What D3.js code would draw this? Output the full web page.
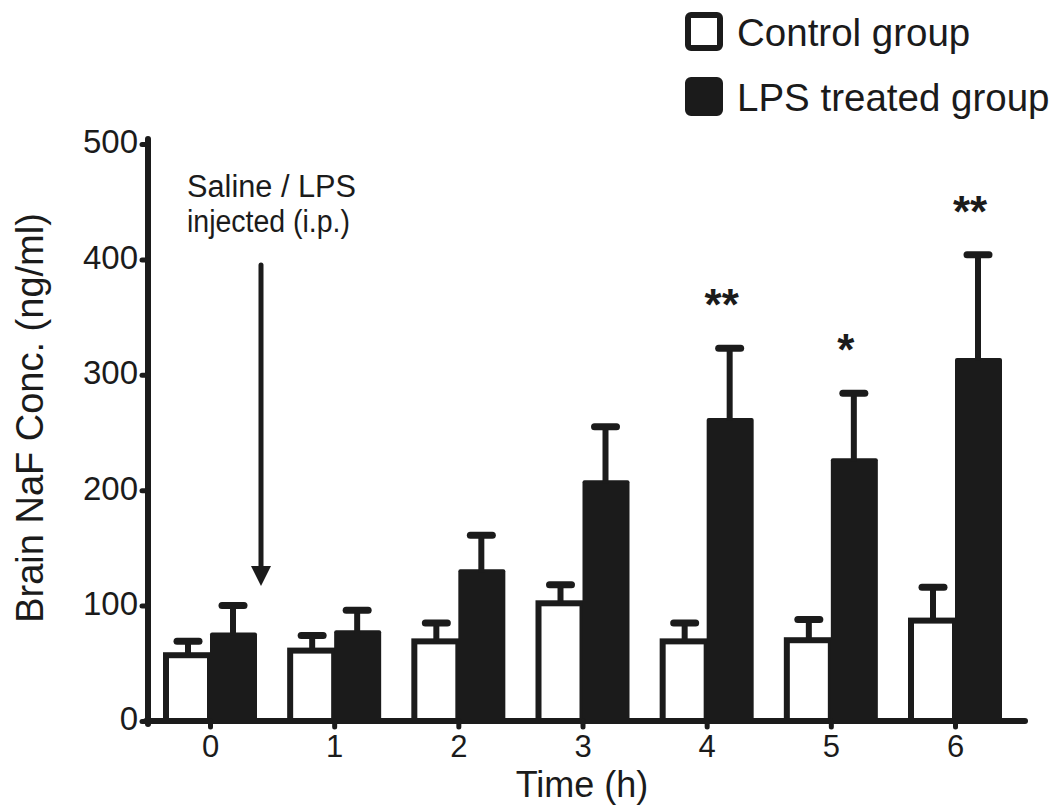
<!DOCTYPE html>
<html>
<head>
<meta charset="utf-8">
<script src="https://cdn.jsdelivr.net/npm/d3@7"></script>
<style>
  html, body { margin: 0; padding: 0; background: #fff; }
  svg { display: block; font-family: "Liberation Sans", Arial, sans-serif; }
</style>
</head>
<body>
<svg id="chart" width="1059" height="805"></svg>
<script>
// Brain NaF concentration over time, control vs LPS treated
const timePoints = ["0", "1", "2", "3", "4", "5", "6"];
const controlMean = [57, 61, 69, 102, 69, 70, 87];
const controlSem  = [12, 13, 16, 16, 16, 18, 29];
const lpsMean     = [74, 76, 129, 206, 260, 225, 312];
const lpsSem      = [26, 20, 32, 49, 63, 59, 92];
const significance = ["", "", "", "", "**", "*", "**"];
const yTicks = [0, 100, 200, 300, 400, 500];

const ink = "#1b1b1b";
const svg = d3.select("#chart");

const y = d3.scaleLinear().domain([0, 500]).range([721, 144]);
const x = d3.scalePoint().domain(timePoints).range([210, 955]);
const barW = 44;

// Bars
const g = svg.append("g");
timePoints.forEach((t, i) => {
  const cx = x(t);
  // control: white fill, thick outline
  g.append("rect")
    .attr("x", cx - barW).attr("y", y(controlMean[i]))
    .attr("width", barW).attr("height", y(0) - y(controlMean[i]))
    .attr("fill", "#fff").attr("stroke", ink).attr("stroke-width", 6);
  // LPS: solid
  g.append("rect")
    .attr("x", cx).attr("y", y(lpsMean[i]) - 3)
    .attr("width", barW + 3).attr("height", y(0) - y(lpsMean[i]) + 3)
    .attr("fill", ink).attr("rx", 2);
});

// Upper error bars
function errBar(cx, mean, sem) {
  g.append("line")
    .attr("x1", cx).attr("x2", cx)
    .attr("y1", y(mean)).attr("y2", y(mean + sem))
    .attr("stroke", ink).attr("stroke-width", 6);
  g.append("line")
    .attr("x1", cx - 11).attr("x2", cx + 11)
    .attr("y1", y(mean + sem)).attr("y2", y(mean + sem))
    .attr("stroke", ink).attr("stroke-width", 7).attr("stroke-linecap", "round");
}
timePoints.forEach((t, i) => {
  errBar(x(t) - barW / 2, controlMean[i], controlSem[i]);
  errBar(x(t) + barW / 2 + 1, lpsMean[i], lpsSem[i]);
});

// Significance marks above the LPS error bars
timePoints.forEach((t, i) => {
  if (!significance[i]) return;
  g.append("text")
    .attr("x", x(t) + barW / 2 - 7)
    .attr("y", y(lpsMean[i] + lpsSem[i]) - 28)
    .attr("text-anchor", "middle")
    .attr("font-size", 44).attr("font-weight", "bold").attr("fill", ink)
    .text(significance[i]);
});

// Axes
const axisG = svg.append("g");
axisG.append("line")
  .attr("x1", 148).attr("x2", 148).attr("y1", 139).attr("y2", y(0) + 3)
  .attr("stroke", ink).attr("stroke-width", 6).attr("stroke-linecap", "round");
axisG.append("line")
  .attr("x1", 146).attr("x2", 1025).attr("y1", y(0)).attr("y2", y(0))
  .attr("stroke", ink).attr("stroke-width", 6).attr("stroke-linecap", "round");

const yAxis = svg.append("g")
  .attr("transform", "translate(148,0)")
  .call(d3.axisLeft(y).tickValues(yTicks).tickSize(6).tickPadding(4).tickFormat(d3.format("d")));
yAxis.select(".domain").remove();
yAxis.selectAll(".tick line").attr("stroke", ink).attr("stroke-width", 5).attr("stroke-linecap", "round");
yAxis.selectAll(".tick text").attr("font-size", 33).attr("fill", ink).attr("dy", "0.27em")
  .attr("font-family", "Liberation Sans, Arial, sans-serif");

const xAxis = svg.append("g")
  .attr("transform", `translate(0,${y(0)})`)
  .call(d3.axisBottom(x).tickSize(6).tickPadding(8));
xAxis.select(".domain").remove();
xAxis.selectAll(".tick line").attr("stroke", ink).attr("stroke-width", 5).attr("stroke-linecap", "round");
xAxis.selectAll(".tick text").attr("font-size", 31).attr("fill", ink)
  .attr("font-family", "Liberation Sans, Arial, sans-serif");

// Axis titles
svg.append("text")
  .attr("x", 582).attr("y", 797)
  .attr("text-anchor", "middle").attr("font-size", 36).attr("fill", ink)
  .text("Time (h)");
svg.append("text")
  .attr("transform", "translate(43,418) rotate(-90)")
  .attr("text-anchor", "middle").attr("font-size", 38).attr("fill", ink)
  .text("Brain NaF Conc. (ng/ml)");

// Injection annotation
svg.append("text").attr("x", 187).attr("y", 197)
  .attr("font-size", 31).attr("fill", ink)
  .attr("textLength", 169).attr("lengthAdjust", "spacingAndGlyphs")
  .text("Saline / LPS");
svg.append("text").attr("x", 187).attr("y", 232)
  .attr("font-size", 31).attr("fill", ink)
  .attr("textLength", 163).attr("lengthAdjust", "spacingAndGlyphs")
  .text("injected (i.p.)");
svg.append("line")
  .attr("x1", 261).attr("x2", 261).attr("y1", 265).attr("y2", 570)
  .attr("stroke", ink).attr("stroke-width", 5).attr("stroke-linecap", "round");
svg.append("path")
  .attr("d", d3.line()([[251, 566], [271, 566], [261, 586]]))
  .attr("fill", ink);

// Legend
const legendItems = [
  { label: "Control group", fill: "#fff" },
  { label: "LPS treated group", fill: ink }
];
const legend = svg.append("g");
legendItems.forEach((d, i) => {
  const ly = 15 + i * 65;
  legend.append("rect")
    .attr("x", 688).attr("y", ly).attr("width", 32).attr("height", 33).attr("rx", 3)
    .attr("fill", d.fill).attr("stroke", ink).attr("stroke-width", 6);
  legend.append("text")
    .attr("x", 737).attr("y", ly + 31)
    .attr("font-size", 38.5).attr("fill", ink).text(d.label);
});
</script>
</body>
</html>
